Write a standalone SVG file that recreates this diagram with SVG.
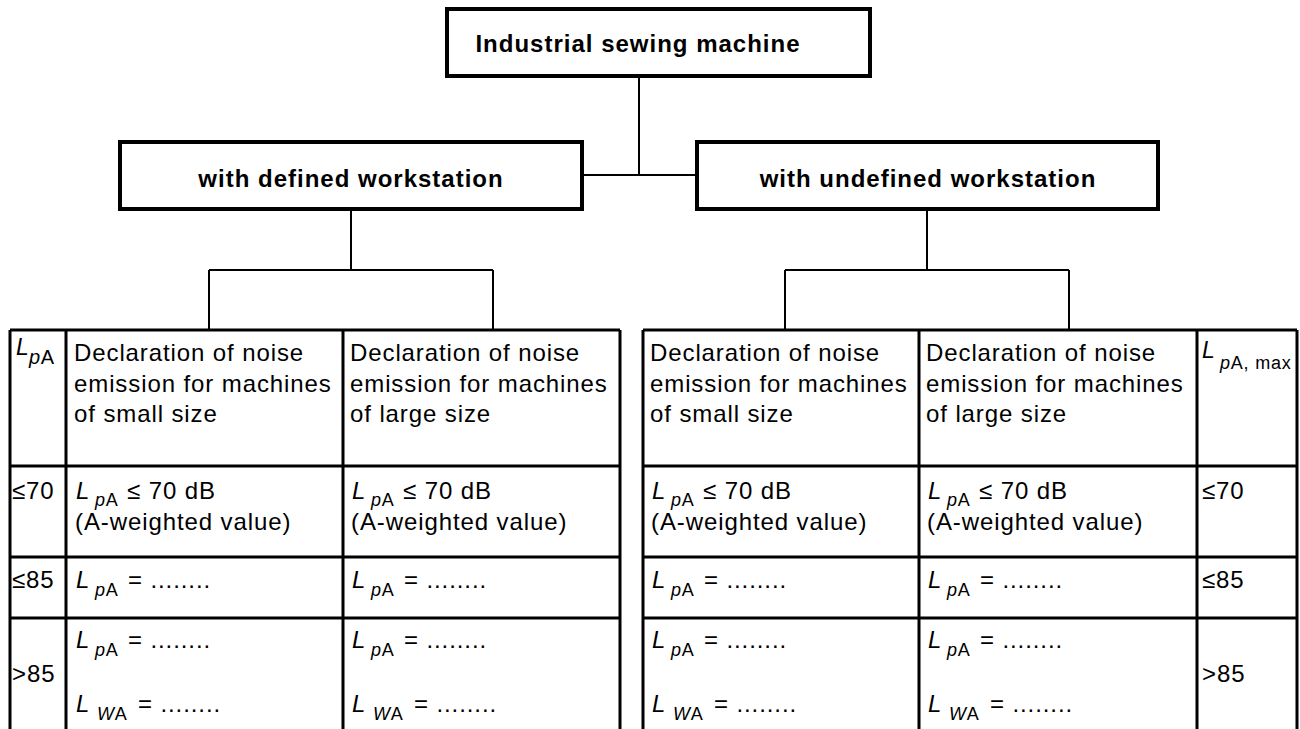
<svg xmlns="http://www.w3.org/2000/svg" width="1300" height="729" viewBox="0 0 1300 729">
<style>
text{font-family:"Liberation Sans",Arial,sans-serif;fill:#000}
.b{font-size:24px;font-weight:bold;letter-spacing:1px;text-anchor:middle}
.t{font-size:24px;letter-spacing:0.9px}
.i{font-style:italic}
.s{font-size:18px;letter-spacing:0.8px}
.box{fill:#fff;stroke:#000;stroke-width:4}
.con{stroke:#000;stroke-width:2;fill:none}
.grid{stroke:#000;stroke-width:3;fill:none}
</style>
<rect width="1300" height="729" fill="#fff"/>
<g id="connectors">
<path class="con" d="M639,77V175M584,175H695"/>
<path class="con" d="M351,210V270M209,270H493M209,270V330M493,270V330"/>
<path class="con" d="M927,210V270M785,270H1069M785,270V330M1069,270V330"/>
</g>
<g id="n_root">
<rect class="box" x="447" y="9" width="423" height="67"/>
<text class="b" x="638" y="52">Industrial sewing machine</text>
</g>
<g id="n_defined">
<rect class="box" x="120" y="142" width="462" height="67"/>
<text class="b" x="351" y="187">with defined workstation</text>
</g>
<g id="n_undefined">
<rect class="box" x="697" y="142" width="461" height="67"/>
<text class="b" x="928" y="187">with undefined workstation</text>
</g>
<g id="table_left">
<path class="grid" d="M10,330H620M10,466H620M10,557H620M10,618H620M10,330V729M66,330V729M343,330V729M620,330V729"/>
<text class="t i" x="16" y="355" style="font-size:23px">L</text>
<text class="s" x="29" y="364" style="font-size:20px;letter-spacing:0.5px"><tspan class="i">p</tspan>A</text>
<text class="t" x="74"><tspan x="74" y="361">Declaration of noise</tspan><tspan x="74" y="391.5">emission for machines</tspan><tspan x="74" y="422">of small size</tspan></text>
<text class="t" x="350"><tspan x="350" y="361">Declaration of noise</tspan><tspan x="350" y="391.5">emission for machines</tspan><tspan x="350" y="422">of large size</tspan></text>
<text class="t" x="12" y="499">≤70</text>
<text class="t" x="12" y="588">≤85</text>
<text class="t" x="12" y="682">&gt;85</text>
<text class="t i" x="76" y="499">L</text><text class="s" x="95" y="506"><tspan class="i">p</tspan>A</text><text class="t" x="127" y="499">≤ 70 dB</text>
<text class="t" x="75" y="530">(A-weighted value)</text>
<text class="t i" x="76" y="588">L</text><text class="s" x="95" y="596"><tspan class="i">p</tspan>A</text><text class="t" x="128" y="588">= ........</text>
<text class="t i" x="76" y="648">L</text><text class="s" x="95" y="656"><tspan class="i">p</tspan>A</text><text class="t" x="128" y="648">= ........</text>
<text class="t i" x="76" y="712">L</text><text class="s" x="97" y="720"><tspan class="i">W</tspan>A</text><text class="t" x="138" y="712">= ........</text>
<text class="t i" x="352" y="499">L</text><text class="s" x="371" y="506"><tspan class="i">p</tspan>A</text><text class="t" x="403" y="499">≤ 70 dB</text>
<text class="t" x="351" y="530">(A-weighted value)</text>
<text class="t i" x="352" y="588">L</text><text class="s" x="371" y="596"><tspan class="i">p</tspan>A</text><text class="t" x="404" y="588">= ........</text>
<text class="t i" x="352" y="648">L</text><text class="s" x="371" y="656"><tspan class="i">p</tspan>A</text><text class="t" x="404" y="648">= ........</text>
<text class="t i" x="352" y="712">L</text><text class="s" x="373" y="720"><tspan class="i">W</tspan>A</text><text class="t" x="414" y="712">= ........</text>
</g>
<g id="table_right">
<path class="grid" d="M643,330H1297M643,466H1297M643,557H1297M643,618H1297M643,330V729M919,330V729M1197,330V729M1297,330V729"/>
<text class="t" x="650"><tspan x="650" y="361">Declaration of noise</tspan><tspan x="650" y="391.5">emission for machines</tspan><tspan x="650" y="422">of small size</tspan></text>
<text class="t" x="926"><tspan x="926" y="361">Declaration of noise</tspan><tspan x="926" y="391.5">emission for machines</tspan><tspan x="926" y="422">of large size</tspan></text>
<text class="t i" x="1202" y="358" style="font-size:23px">L</text>
<text class="s" x="1220" y="369" style="font-size:18px;letter-spacing:0.8px"><tspan class="i">p</tspan>A, max</text>
<text class="t" x="1202" y="499">≤70</text>
<text class="t" x="1202" y="588">≤85</text>
<text class="t" x="1202" y="682">&gt;85</text>
<text class="t i" x="652" y="499">L</text><text class="s" x="671" y="506"><tspan class="i">p</tspan>A</text><text class="t" x="703" y="499">≤ 70 dB</text>
<text class="t" x="651" y="530">(A-weighted value)</text>
<text class="t i" x="652" y="588">L</text><text class="s" x="671" y="596"><tspan class="i">p</tspan>A</text><text class="t" x="704" y="588">= ........</text>
<text class="t i" x="652" y="648">L</text><text class="s" x="671" y="656"><tspan class="i">p</tspan>A</text><text class="t" x="704" y="648">= ........</text>
<text class="t i" x="652" y="712">L</text><text class="s" x="673" y="720"><tspan class="i">W</tspan>A</text><text class="t" x="714" y="712">= ........</text>
<text class="t i" x="928" y="499">L</text><text class="s" x="947" y="506"><tspan class="i">p</tspan>A</text><text class="t" x="979" y="499">≤ 70 dB</text>
<text class="t" x="927" y="530">(A-weighted value)</text>
<text class="t i" x="928" y="588">L</text><text class="s" x="947" y="596"><tspan class="i">p</tspan>A</text><text class="t" x="980" y="588">= ........</text>
<text class="t i" x="928" y="648">L</text><text class="s" x="947" y="656"><tspan class="i">p</tspan>A</text><text class="t" x="980" y="648">= ........</text>
<text class="t i" x="928" y="712">L</text><text class="s" x="949" y="720"><tspan class="i">W</tspan>A</text><text class="t" x="990" y="712">= ........</text>
</g>
</svg>
